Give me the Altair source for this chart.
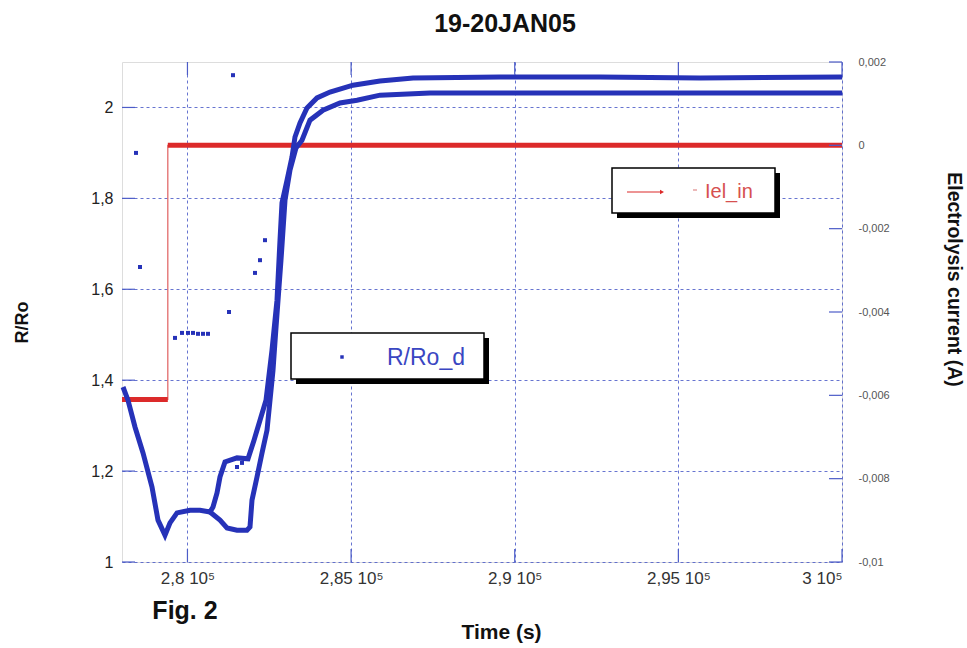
import altair as alt
import pandas as pd

# ---------------- data ----------------
x_ticks = [280000, 285000, 290000, 295000, 300000]
r_ticks = [1.0, 1.2, 1.4, 1.6, 1.8, 2.0]
i_ticks = [-0.01, -0.008, -0.006, -0.004, -0.002, 0.0, 0.002]

# R/Ro_d, trace ending on the upper plateau
t1 = [278031, 278183, 278397, 278642, 278917, 279100, 279314, 279467, 279681,
      280078, 280383, 280689, 280781, 280903, 280994, 281147, 281514, 281850,
      282034, 282217, 282400, 282583, 282736, 282828, 282889, 283042, 283194,
      283286, 283439, 283653, 283958, 284356, 285058, 285883, 286892, 289550,
      292606, 295661, 300000]
r1 = [1.385, 1.356, 1.297, 1.240, 1.165, 1.092, 1.059, 1.086, 1.108,
      1.114, 1.114, 1.110, 1.121, 1.152, 1.187, 1.220, 1.229, 1.227,
      1.268, 1.312, 1.356, 1.466, 1.576, 1.708, 1.790, 1.840, 1.891,
      1.935, 1.966, 1.999, 2.021, 2.034, 2.049, 2.058, 2.065, 2.067,
      2.067, 2.065, 2.067]

# R/Ro_d, trace ending on the lower plateau
t2 = [280689, 280994, 281208, 281514, 281819, 281911, 281972, 282125, 282278,
      282431, 282614, 282700, 282858, 282981, 283133, 283317, 283500, 283744,
      284142, 284661, 285181, 285883, 287411, 292606, 300000]
r2 = [1.110, 1.092, 1.075, 1.070, 1.070, 1.077, 1.136, 1.187, 1.240,
      1.290, 1.422, 1.510, 1.664, 1.796, 1.862, 1.911, 1.928, 1.972,
      1.994, 2.010, 2.016, 2.027, 2.032, 2.032, 2.032]

# isolated R/Ro_d samples
ts = [278428, 278550, 279619, 279833, 280017, 280169, 280322, 280475, 280628,
      281270, 281392, 282064, 282217, 282369, 281514, 281667]
rs = [1.900, 1.649, 1.493, 1.504, 1.504, 1.504, 1.502, 1.502, 1.502,
      1.550, 2.071, 1.636, 1.664, 1.708, 1.209, 1.218]

# Iel_in (A)
red_t = [278000, 279400, 279400, 300000]
red_i = [-0.0061, -0.0061, 0.0, 0.0]
red_seg = ["before", "before", "after", "after"]

# ---------------- styling ----------------
FONT = "Liberation Sans"
BLUE = "#2632b8"
RED = "#dc2a2a"
GRID = "#4c5cc8"

xscale = alt.Scale(domain=[278000, 300000], nice=False, zero=False)
lscale = alt.Scale(domain=[1, 2.1], nice=False, zero=False)
rscale = alt.Scale(domain=[-0.01, 0.002], nice=False, zero=False)

x_axis = alt.Axis(
    values=x_ticks,
    labelExpr="replace('' + datum.value / 100000, '.', ',') + ' 10\u2075'",
    labelFont=FONT, labelFontSize=17, labelColor="#333333", labelPadding=8,
    ticks=False, domain=False, grid=True, gridDash=[3, 3], gridColor=GRID,
    gridOpacity=0.85, title="Time (s)", titleFont=FONT, titleFontSize=21,
    titleFontWeight="bold", titleColor="#111111", titleX=379, titleY=70,
    titleBaseline="middle", titleAlign="center",
)
left_axis = alt.Axis(
    orient="left", values=r_ticks,
    labelExpr="replace('' + datum.value, '.', ',')",
    labelFont=FONT, labelFontSize=16, labelColor="#222222", labelPadding=9,
    ticks=False, domain=False, grid=True, gridDash=[3, 3], gridColor=GRID,
    gridOpacity=0.85, title="R/Ro", titleFont=FONT, titleFontSize=18,
    titleFontWeight="bold", titleColor="#111111", titleX=-100, titleY=260,
    titleAngle=-90, titleBaseline="middle", titleAlign="center",
)
right_axis = alt.Axis(
    orient="right", values=i_ticks,
    labelExpr="replace('' + datum.value, '.', ',')",
    labelFont=FONT, labelFontSize=11, labelColor="#555555", labelPadding=16,
    ticks=False, domain=False, grid=False,
    title="Electrolysis current (A)", titleFont=FONT, titleFontSize=19.5,
    titleFontWeight="bold", titleColor="#111111", titleX=111, titleY=217,
    titleAngle=90, titleBaseline="middle", titleAlign="center",
)

X = alt.X("t:Q", scale=xscale, axis=x_axis)
YL = alt.Y("r:Q", scale=lscale, axis=left_axis)
YR = alt.Y("i:Q", scale=rscale, axis=right_axis)

traces = pd.DataFrame({
    "t": t1 + t2,
    "r": r1 + r2,
    "trace": ["a"] * len(t1) + ["b"] * len(t2),
})
scatter = pd.DataFrame({"t": ts, "r": rs})
red = pd.DataFrame({"t": red_t, "i": red_i, "seg": red_seg})

# ---------------- current (right axis) ----------------
red_thin = alt.Chart(red).mark_line(color="#e06060", strokeWidth=1.2).encode(x=X, y=YR)
red_thick = alt.Chart(red).mark_line(color=RED, strokeWidth=5).encode(
    x=X, y=YR, detail="seg:N")
right_ticks = alt.Chart(pd.DataFrame({"i": i_ticks})).mark_rule(
    color=GRID, strokeWidth=1.2).encode(
    y=YR, x=alt.value(707), x2=alt.value(720))
right_group = alt.layer(red_thin, red_thick, right_ticks)

# ---------------- R/Ro (left axis) ----------------
blue_lines = alt.Chart(traces).mark_line(color=BLUE, strokeWidth=5).encode(
    x=X, y=YL, detail="trace:N")
blue_pts = alt.Chart(scatter).mark_square(color=BLUE, size=16, opacity=1).encode(x=X, y=YL)
left_ticks = alt.Chart(pd.DataFrame({"r": r_ticks})).mark_rule(
    color=GRID, strokeWidth=1.2).encode(y=YL, x=alt.value(0), x2=alt.value(13))
xt = pd.DataFrame({"t": x_ticks})
bottom_ticks = alt.Chart(xt).mark_rule(color=GRID, strokeWidth=1.2).encode(
    x=X, y=alt.value(487), y2=alt.value(500))
top_ticks = alt.Chart(xt).mark_rule(color=GRID, strokeWidth=1.2).encode(
    x=X, y=alt.value(0), y2=alt.value(13))
left_group = alt.layer(blue_lines, blue_pts, left_ticks, bottom_ticks, top_ticks)

# ---------------- legend boxes and notes ----------------
one = pd.DataFrame({"k": [0]})

def box(x0, y0, x1, y1):
    shadow = alt.Chart(one).mark_rect(color="black").encode(
        x=alt.value(x0 + 5), x2=alt.value(x1 + 5),
        y=alt.value(y0 + 5), y2=alt.value(y1 + 5))
    frame = alt.Chart(one).mark_rect(fill="white", stroke="black", strokeWidth=1.5).encode(
        x=alt.value(x0), x2=alt.value(x1), y=alt.value(y0), y2=alt.value(y1))
    return [shadow, frame]

leg_red = box(490, 106, 653, 151) + [
    alt.Chart(one).mark_rule(color=RED, strokeWidth=1.2).encode(
        x=alt.value(505), x2=alt.value(540), y=alt.value(130)),
    alt.Chart(one).mark_point(shape="triangle-right", filled=True, size=22,
                              color=RED, opacity=1).encode(
        x=alt.value(540), y=alt.value(130)),
    alt.Chart(one).mark_rule(color="#e08a8a", strokeWidth=1.2).encode(
        x=alt.value(571), x2=alt.value(575), y=alt.value(128)),
    alt.Chart(one).mark_text(text="Iel_in", align="left", baseline="middle",
                             font=FONT, fontSize=20, color="#d65050").encode(
        x=alt.value(583), y=alt.value(130)),
]
leg_blue = box(169, 271, 362, 317) + [
    alt.Chart(one).mark_square(size=12, color=BLUE, opacity=1).encode(
        x=alt.value(220), y=alt.value(295)),
    alt.Chart(one).mark_text(text="R/Ro_d", align="left", baseline="middle",
                             font=FONT, fontSize=23, color="#3a46c2").encode(
        x=alt.value(265), y=alt.value(296)),
]
fig_note = alt.Chart(one).mark_text(text="Fig. 2", align="center", baseline="middle",
                                    font=FONT, fontSize=25, fontWeight="bold",
                                    color="#111111").encode(
    x=alt.value(63), y=alt.value(549))

deco = alt.layer(*leg_red, *leg_blue, fig_note)

chart = alt.layer(right_group, left_group, deco).resolve_scale(
    y="independent"
).properties(
    width=720, height=500,
    autosize=alt.AutoSizeParams(type="none"),
    padding={"left": 122, "top": 62, "right": 125, "bottom": 86},
    title=alt.TitleParams("19-20JAN05", font=FONT, fontSize=25, fontWeight="bold",
                          color="#111111", anchor="middle", frame="group",
                          dx=23, offset=19),
).configure_view(
    stroke="#4a55c0", strokeWidth=1.5
).configure(background="white")

chart.save("out.html", embed_options={"renderer": "svg", "actions": False})
